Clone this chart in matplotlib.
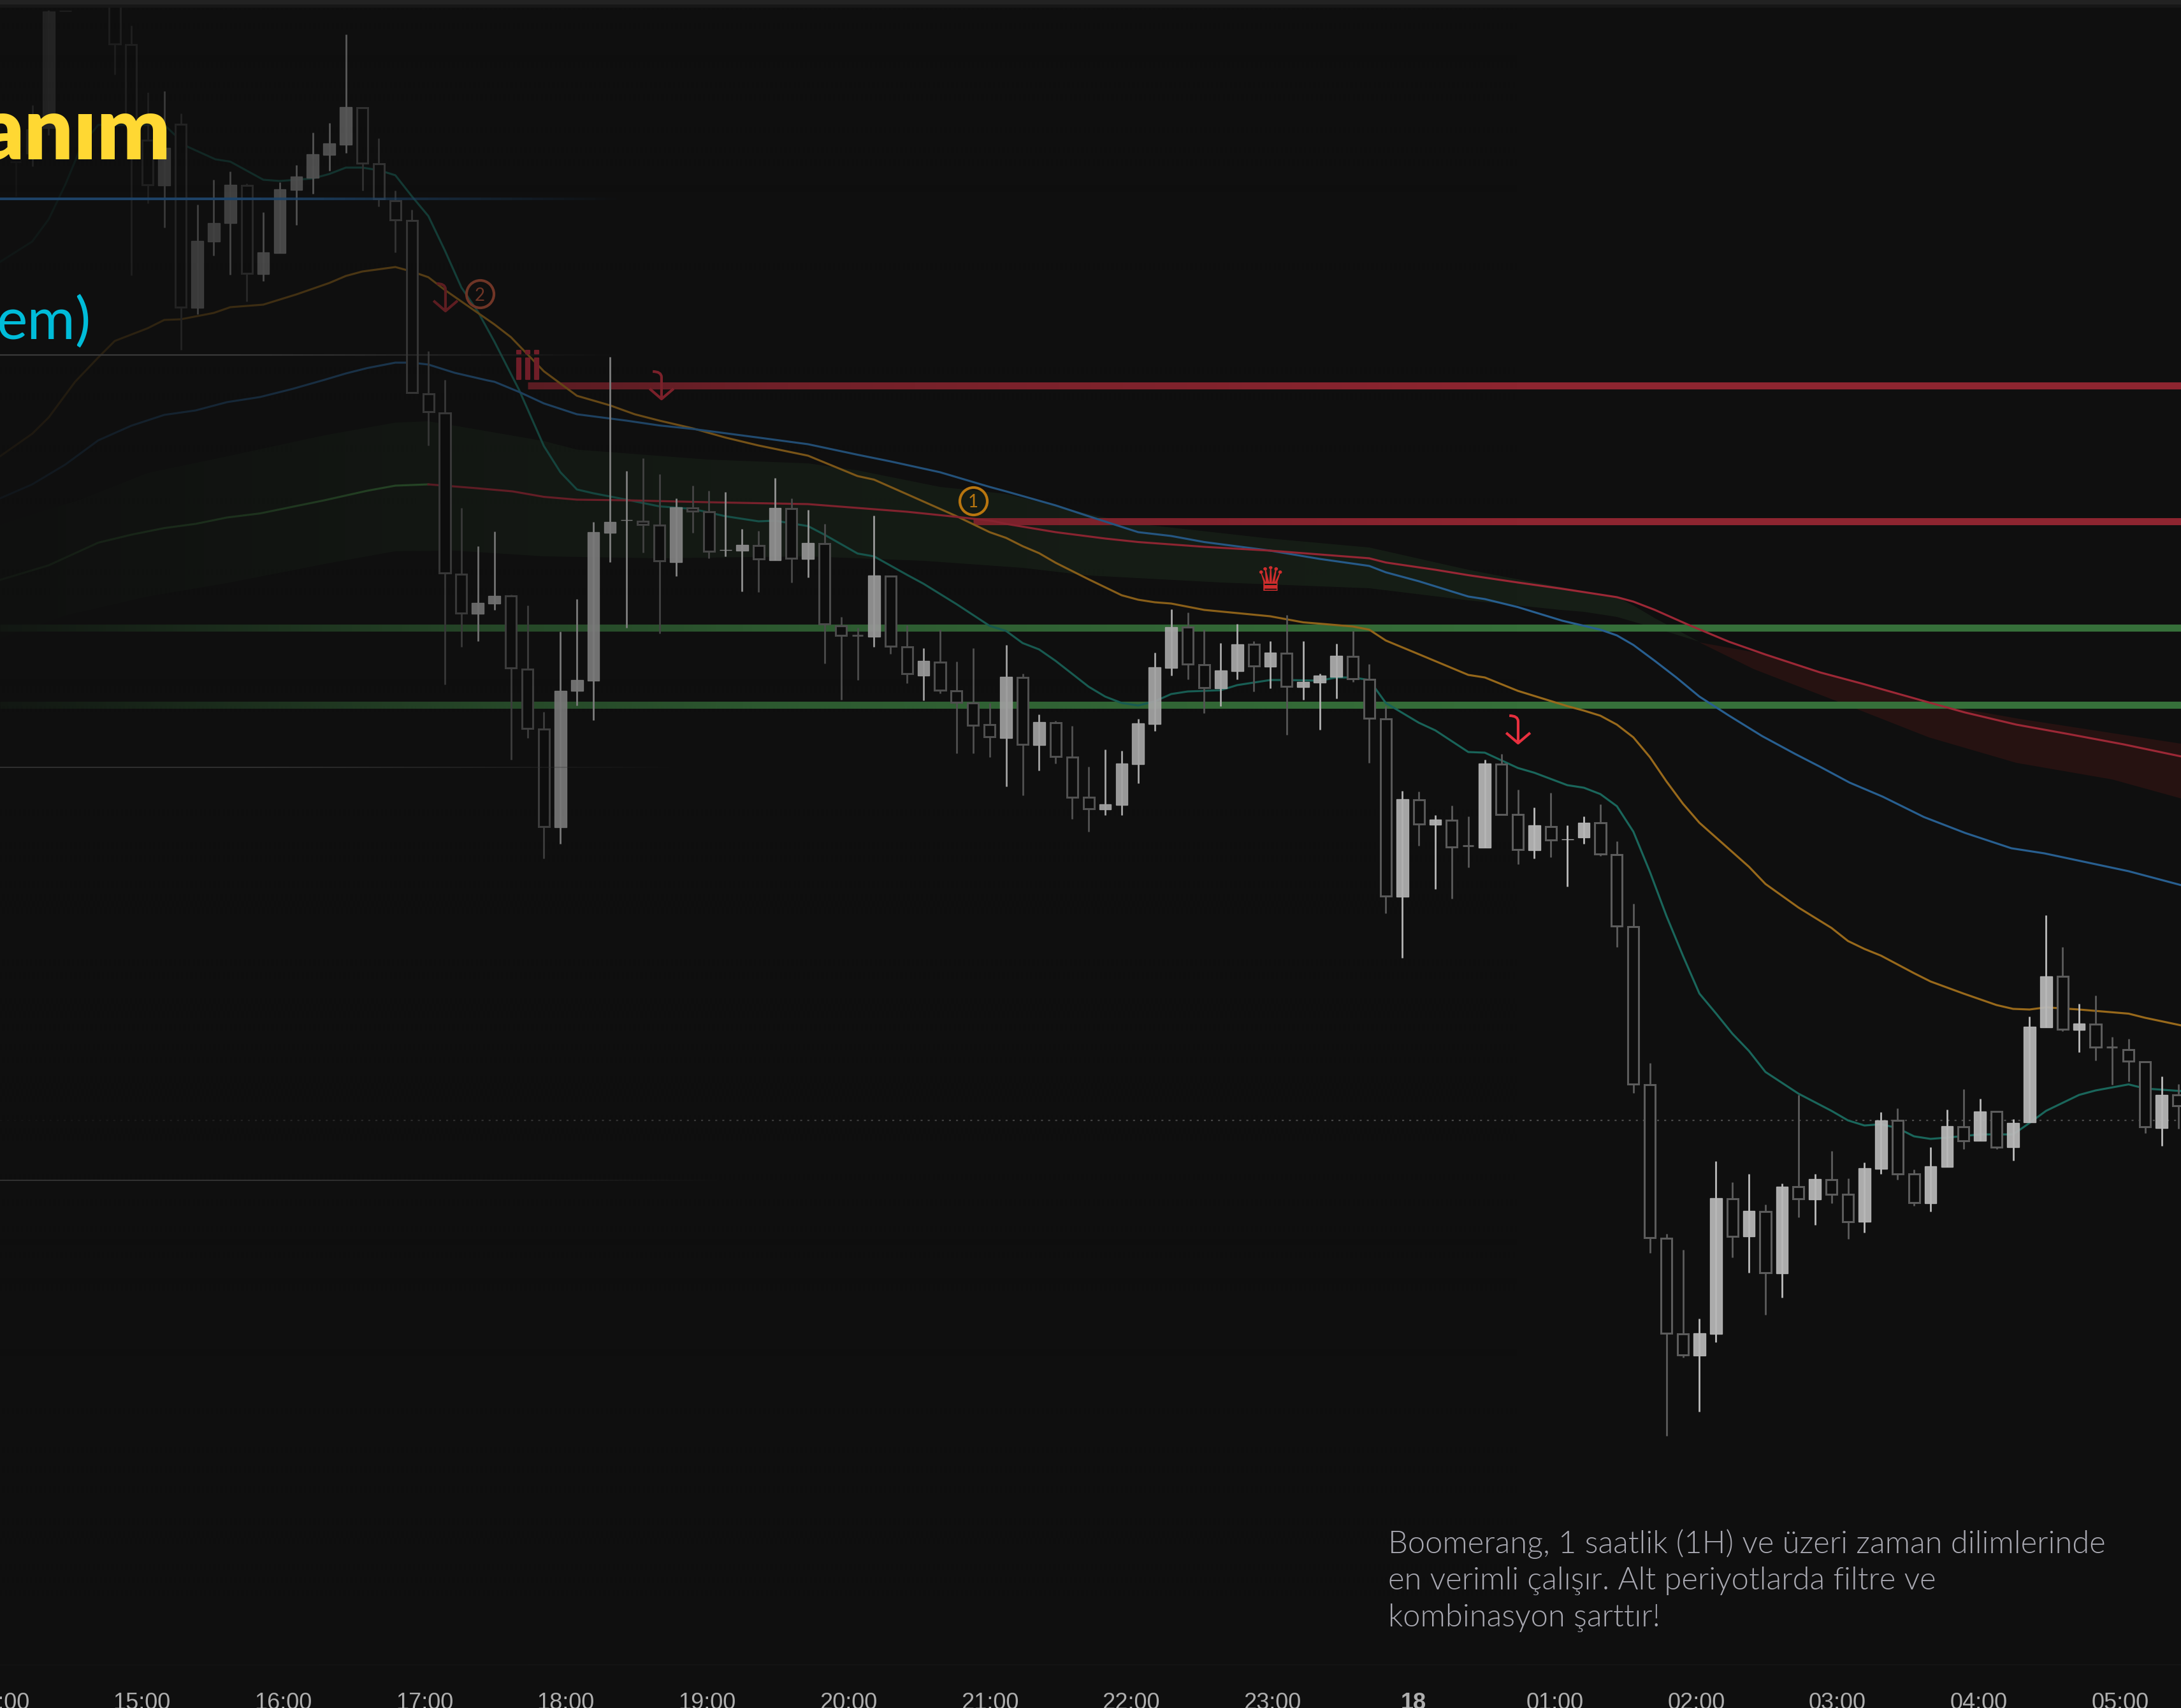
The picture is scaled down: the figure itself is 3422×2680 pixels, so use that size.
"""
Candlestick chart with EMA ribbon, levels and annotations (dark theme)
Prices are kept on the screen scale of the source picture, so the y axis runs downward
"""

import numpy as np
import matplotlib
matplotlib.use('Agg')
import matplotlib.pyplot as plt
from matplotlib.collections import LineCollection
from matplotlib.path import Path
import matplotlib.patheffects as pe

W, H = 3422, 2680
BG = '#0f0f0f'

# candles, ten bars per row after the first four
bar_index = [-6, -5, -4, -3] + list(range(0, 126))
solid = [0, 1, 1, 1,
         0, 0, 0, 1, 0, 1, 1, 1, 0, 1,
         1, 1, 1, 1, 1, 0, 0, 0, 0, 0,
         0, 0, 1, 1, 0, 0, 0, 1, 1, 1,
         1, 1, 0, 0, 1, 0, 0, 1, 1, 0,
         1, 0, 1, 0, 0, 0, 1, 0, 0, 1,
         0, 0, 0, 0, 1, 0, 1, 0, 0, 0,
         1, 1, 1, 1, 1, 0, 0, 1, 1, 0,
         1, 0, 1, 1, 1, 0, 0, 0, 1, 0,
         1, 0, 0, 1, 0, 0, 1, 0, 1, 1,
         0, 0, 0, 0, 0, 0, 1, 1, 0, 1,
         0, 1, 0, 1, 0, 0, 1, 1, 0, 0,
         1, 1, 0, 1, 0, 1, 1, 1, 0, 1,
         0, 0, 0, 0, 1, 0]
body_top = [254, 203, 18, 17,
            -5, 70, 220, 232, 195, 378, 350, 290, 291, 396,
            297, 277, 242, 225, 168, 169, 257, 315, 346, 618,
            647.5, 901, 946, 934.5, 935, 1050, 1144, 1084, 1067, 835,
            818.6, 816, 817.5, 824, 795.6, 797, 802.5, 863, 855, 856,
            797, 798, 852, 852.5, 982, 996.5, 903, 903.6, 1015, 1037,
            1038.5, 1084, 1103, 1137, 1062, 1063, 1133, 1134, 1188, 1251,
            1262, 1197.5, 1135, 1047, 984, 984, 1043, 1052, 1011, 1011,
            1024, 1024.5, 1070, 1060, 1028.6, 1030, 1066, 1127.5, 1254, 1254.6,
            1286, 1287, 1326.5, 1197.5, 1199, 1277.5, 1295, 1297, 1316.6, 1290.6,
            1291, 1341, 1453.6, 1701.5, 1943, 2092.6, 2092, 1880, 1880.6, 1900,
            1900.5, 1861.5, 1862, 1850, 1851, 1874, 1833, 1758, 1758, 1842,
            1830, 1767, 1768, 1743.6, 1744, 1762, 1611, 1531.6, 1532, 1606,
            1606.6, 1642.6, 1647, 1665.6, 1717.6, 1718]
body_bot = [254, 241, 201, 17,
            69, 192, 290, 291, 482, 483, 379, 350, 429, 430,
            397, 298, 279, 243, 227, 256, 312, 345, 616, 646,
            899, 962, 963, 947, 1048, 1143, 1297, 1298, 1084, 1068,
            836, 816, 823, 879.5, 882, 802, 864.5, 863, 864, 876.6,
            879, 876, 877, 979, 997, 996.5, 999, 1014, 1057, 1060,
            1083, 1101.6, 1138, 1155.6, 1158, 1168, 1169, 1187, 1250.5, 1269,
            1270, 1263, 1199, 1136, 1048, 1042, 1079, 1080, 1053, 1045,
            1046, 1077, 1078, 1071, 1062, 1065, 1126.5, 1406, 1407, 1293,
            1294, 1328.6, 1326.5, 1329.6, 1277.6, 1332.6, 1334, 1318, 1316.6, 1314,
            1340, 1453, 1701, 1942, 2092, 2125.5, 2127, 2092.6, 1939.5, 1940,
            1997, 1997.7, 1881, 1882, 1874, 1916.6, 1917, 1834, 1841.6, 1886.7,
            1887.5, 1831, 1789.5, 1789.5, 1799.5, 1799.5, 1760.5, 1612, 1615, 1616,
            1642.6, 1642.6, 1665, 1768, 1769.6, 1735]
wick_top = [254, 165, 16, 17,
            -10, 40, 145, 143, 178, 321, 282, 269, 288, 333,
            286, 259, 208, 193, 54, 169, 217, 299, 329, 550.5,
            596, 797, 856.5, 833.5, 933, 949.5, 1117, 991, 940, 819,
            560, 739, 719, 744, 782, 762, 770, 772, 830, 833,
            750, 782, 800, 821.5, 968, 985, 809, 903, 981, 1017,
            988, 1038, 1017, 1103, 1012, 1057, 1121, 1131, 1139, 1202.5,
            1176, 1178, 1127.5, 1023.5, 956, 961, 988, 1009, 979, 1006,
            1006, 965, 1006, 1057, 1010, 990, 1042, 1108, 1241, 1242,
            1279, 1264, 1280.6, 1192, 1183, 1239, 1267, 1244, 1295, 1280.6,
            1262, 1320, 1418, 1668, 1936, 1961, 2069, 1821.7, 1855, 1841.6,
            1890, 1857, 1718, 1841.6, 1805.6, 1848.5, 1824, 1745, 1739, 1834.7,
            1800, 1740.5, 1709, 1723.7, 1744, 1756, 1595, 1436, 1486, 1574.5,
            1561.5, 1626.5, 1629.6, 1665.6, 1689, 1700.7]
wick_bot = [308, 261, 212, 17,
            117, 432, 319, 357, 549, 493, 401, 431, 473, 441,
            397, 353, 304, 268, 240, 299, 324, 396, 616, 699,
            1074, 1015, 1006, 957, 1192, 1158, 1347, 1324, 1107, 1130,
            882, 985, 867, 994, 904, 836, 876, 873, 928, 929,
            879, 914, 906, 1041, 1097.6, 1066.6, 1015, 1026, 1072, 1099,
            1088, 1182, 1182, 1188, 1234, 1248, 1209, 1198, 1285, 1304.6,
            1278.6, 1278.6, 1228.6, 1147, 1060, 1066, 1119, 1108, 1066, 1085,
            1080, 1152.5, 1098, 1145, 1096, 1070, 1197, 1433, 1503, 1326.5,
            1395, 1410, 1361, 1330, 1278, 1355.6, 1347, 1345, 1391, 1324,
            1343, 1486, 1714.5, 1966, 2253, 2130, 2215, 2106, 1973, 1997,
            2063, 2036, 1910, 1922, 1887.5, 1944, 1934, 1842, 1851, 1892,
            1901, 1831, 1803, 1789.5, 1802.5, 1821, 1760.5, 1612, 1618, 1651,
            1664, 1702, 1697, 1778, 1798, 1771]

# moving averages
teal_bars = [-6.95, -5, -4, -3, -2, -1, 3, 4.4, 6.1, 7, 9, 10, 12, 13, 14, 15, 16, 17, 18, 19, 20, 21, 22, 23, 24.5, 26, 27, 28, 29, 31, 33, 35, 37, 39, 40, 42, 43, 45, 46, 48, 49, 51, 53, 54, 55, 56, 57, 59, 60, 61, 62, 63, 64, 65, 67, 68, 70, 71, 73, 74, 75, 76, 77, 79, 80, 82, 83, 85, 86, 88, 89, 90, 91, 92, 93, 94, 95, 96, 97, 98, 99, 100, 102, 104, 105, 106, 107, 108, 109, 110, 111, 113, 115, 116, 117, 119, 120, 122, 123, 125.2]
teal_vals = [411, 379, 344, 290, 228, 196, 196, 230, 250, 253.6, 282, 284, 280, 273, 263, 263, 267, 275, 308, 339, 393, 451, 489, 536, 612, 700, 741, 768, 774, 784, 794.5, 798.5, 810, 818, 817, 825.5, 839, 868.5, 873, 902, 916, 948, 982, 990, 1009, 1019, 1037, 1077.5, 1093, 1103, 1107, 1100.5, 1089, 1085, 1083, 1075, 1067, 1067, 1068, 1063, 1063, 1067, 1103, 1134, 1146, 1180, 1181, 1205, 1212.5, 1232, 1236, 1246, 1265, 1305, 1368, 1437, 1499.5, 1559, 1590, 1622, 1649, 1682, 1716, 1743, 1758, 1766, 1764, 1770, 1783, 1787, 1785, 1780, 1780, 1762, 1743, 1718, 1711, 1701.5, 1708, 1712]
orange_bars = [-6.95, -5, -4, -2.4, -1, 0, 2, 3, 4, 6, 7, 9, 11, 13, 14, 15, 17, 18, 19, 20, 22, 23, 24, 26, 28, 30, 31.5, 33, 35, 37, 39, 42, 45, 46, 48, 51, 53, 54, 55, 56, 57, 59, 61, 62, 63, 64, 66, 68, 70, 72, 73, 75, 76, 77, 79, 82, 83, 85, 86, 88, 89, 90, 91, 92, 93, 94, 95, 96, 97, 99, 100, 102, 104, 105, 106, 107, 109, 110, 112, 114, 115, 116, 117, 119, 122, 123, 125.2]
orange_vals = [716, 680.6, 655, 599, 561, 535, 515, 502, 501, 491, 482, 478, 462, 444, 433, 426, 419, 426, 435, 455, 491, 509, 529, 582.6, 621, 636, 650, 660, 672, 686.6, 699, 715, 747, 752.6, 775.5, 810, 835, 844, 857, 868, 883, 909, 934, 941, 945, 947, 957, 962, 967, 976.5, 978.6, 983, 988, 1005, 1026.5, 1059, 1063, 1084, 1092, 1108, 1115, 1123, 1137, 1157, 1188, 1226, 1261, 1291, 1314, 1360, 1387, 1424, 1456, 1476.5, 1489, 1499.5, 1527, 1540, 1559, 1577, 1583, 1584, 1580.6, 1584, 1590.5, 1597, 1609]
blue_bars = [-6.95, -5, -3, -1, 1, 3, 4.9, 6.8, 8.8, 10.8, 12.7, 14, 15.3, 17, 18, 19, 20.6, 22.6, 23, 24.5, 26, 28, 31, 33, 35, 39, 42, 45, 47, 50, 53, 54, 57, 59, 62, 64, 66, 70, 73, 76, 77, 79, 82, 83, 85, 87.7, 90, 91, 92, 93.3, 94.6, 96, 97.8, 99.8, 101.8, 103.3, 105.1, 107.1, 109.6, 112.1, 114.9, 116.9, 122, 125.2]
blue_vals = [782, 760, 729, 691, 668, 651, 644, 631, 623, 610, 596, 586, 577.5, 569, 569, 572, 585, 597, 599, 615, 633, 650, 660, 667.6, 673, 686.6, 697, 713.5, 724, 741, 764, 771, 793, 810, 835, 841, 850.5, 864, 877, 888, 898, 912, 936, 940, 952.6, 974, 988, 997, 1012, 1037, 1063, 1093, 1123, 1155, 1183, 1203, 1228, 1250, 1282, 1307, 1331, 1339, 1367, 1389]
slow_up_bars = [-6.95, -4, -1, 1, 3, 4.9, 6.8, 8.8, 10.8, 12.7, 14, 15.3, 17, 19]
slow_up_vals = [910, 887, 851.5, 839, 828.6, 822, 812, 805.6, 795, 785, 777.5, 770, 762, 760]
slow_down_bars = [19, 21.9, 24.1, 26, 28, 31, 35.9, 42, 45, 48, 51, 53.2, 54, 57, 60, 62, 66, 70, 74, 76, 77, 80, 82, 85, 87.6, 89.5, 91, 92, 93.3, 95.3, 97.8, 100, 103.3, 105.9, 109.6, 112.1, 115.2, 118.4, 121.7, 125.2]
slow_down_vals = [760, 766, 771, 779.6, 784, 785, 788, 791, 797, 803, 811, 817.5, 822, 835, 845, 850.5, 858, 864, 872, 876, 882.6, 894, 902.5, 914, 923.5, 931, 937, 944, 957, 980, 1007, 1027, 1055, 1073, 1100, 1118, 1137, 1152, 1168, 1187]

# ribbon outlines
green_top_bars = [-6.95, -2, 2, 6.8, 12.7, 17, 19, 20.4, 26, 28, 35.9, 42, 45, 50, 54, 59.6, 62, 70, 76, 82, 85, 87.6, 91, 92, 93.3, 96]
green_top_vals = [823, 783, 742, 716, 683, 663, 661, 667, 692, 705.5, 721, 727, 738, 764, 775, 810, 822, 845, 859, 894, 909, 921, 937, 950, 970, 1007]
green_bot_bars = [-6.95, -3, 2, 6.8, 12.7, 17, 20.6, 26, 33, 42, 48, 49, 55, 59, 67, 76, 82, 87.6, 89, 91, 93, 96]
green_bot_vals = [1002, 966, 936, 915, 885, 865, 864, 873, 876, 873, 879, 880, 891, 903, 914, 923, 942, 957, 960, 968, 983, 1007]
red_top_bars = [96, 100.3, 104.1, 109.6, 112.1, 115.4, 125.2]
red_top_vals = [1008, 1028, 1060, 1102, 1113, 1128, 1167]
red_bot_bars = [96, 99.3, 104.6, 109.9, 115.2, 121, 125.2]
red_bot_vals = [1008, 1050, 1103, 1157, 1197, 1223, 1253]

# horizontal levels
resistance_levels = [604.5, 818]
resistance_starts = [25, 52]
support_levels = [985, 1106]
faded_levels = [312, 557, 1204, 1852]
faded_ends = [31, 31, 35, 38]
faded_colors = ['#1d4266', '#3a3a3a', '#303030', '#333333']
faded_widths = [3.0, 1.6, 1.4, 1.4]
dotted_level = 1758

hour_labels = ['14:00', '15:00', '16:00', '17:00', '18:00', '19:00', '20:00', '21:00', '22:00',
               '23:00', '18', '01:00', '02:00', '03:00', '04:00', '05:00']

note_lines = ['Boomerang, 1 saatlik (1H) ve üzeri zaman dilimlerinde',
              'en verimli çalışır. Alt periyotlarda filtre ve',
              'kombinasyon şarttır!']

# layout of the x axis: pixels of first bar, bar pitch and hour pitch
X0, BAR_W, HOUR_W = 180.0, 25.9, 221.7
AX_BOTTOM = 2612


def fx(px):
    return px / W


def fy(py):
    return 1 - py / H


def bar_pos(px):
    return (px - X0) / BAR_W


def fading_hline(ax, y, x_start, x_end, color, width, z):
    # level that dies away to the right
    xs = np.linspace(x_start, x_end, 61)
    segs = [[(xs[i], y), (xs[i + 1], y)] for i in range(60)]
    rgba = np.tile(matplotlib.colors.to_rgba(color), (60, 1))
    rgba[:, 3] = np.clip(np.linspace(1.6, 0, 60), 0, 1)
    ax.add_collection(LineCollection(segs, colors=rgba, linewidths=width, zorder=z))


plt.rcParams['font.family'] = ['Liberation Sans', 'DejaVu Sans']

fig = plt.figure(figsize=(W / 100, H / 100), dpi=100, facecolor=BG)
ax = fig.add_axes([0, (H - AX_BOTTOM) / H, 1, AX_BOTTOM / H], facecolor=BG)
ax.set_xlim(bar_pos(0), bar_pos(W))
ax.set_ylim(AX_BOTTOM, 0)

# ribbon
ax.fill(green_top_bars + green_bot_bars[::-1], green_top_vals + green_bot_vals[::-1],
        color='#161e16', lw=0, zorder=1)
ax.fill(red_top_bars + red_bot_bars[::-1], red_top_vals + red_bot_vals[::-1],
        color='#261211', lw=0, zorder=1)

# levels
for level, start in zip(resistance_levels, resistance_starts):
    ax.hlines(level, start, bar_pos(W), color='#8e2530', lw=8.0, zorder=2)
for level in support_levels:
    ax.hlines(level, bar_pos(0), bar_pos(W), color='#36703a', lw=8.0, zorder=2)
ax.hlines(dotted_level, bar_pos(0), bar_pos(W), color='#4a4a4a', lw=1.6,
          linestyles=(0, (1.4, 3.6)), zorder=2)

# moving averages
ax.plot(teal_bars, teal_vals, color='#1a665b', lw=2.3, zorder=3)
ax.plot(orange_bars, orange_vals, color='#98691b', lw=2.3, zorder=3)
ax.plot(blue_bars, blue_vals, color='#285f90', lw=2.3, zorder=3)
ax.plot(slow_up_bars, slow_up_vals, color='#3c7a3c', lw=2.3, zorder=3)
ax.plot(slow_down_bars, slow_down_vals, color='#9c2836', lw=2.3, zorder=3)

# candles
bars = np.array(bar_index)
is_solid = np.array(solid, dtype=bool)
tops, bots = np.array(body_top, dtype=float), np.array(body_bot, dtype=float)
highs, lows = np.array(wick_top, dtype=float), np.array(wick_bot, dtype=float)
ax.vlines(bars[~is_solid], highs[~is_solid], lows[~is_solid], color='#5c5c5c', lw=2.0, zorder=4)
ax.vlines(bars[is_solid], highs[is_solid], lows[is_solid], color='#bcbcbc', lw=2.0, zorder=4)
ax.bar(bars[~is_solid], bots[~is_solid] - tops[~is_solid], bottom=tops[~is_solid], width=0.66,
       facecolor='#0d0d0d', edgecolor='#5c5c5c', lw=2.2, zorder=5)
ax.bar(bars[is_solid], bots[is_solid] - tops[is_solid], bottom=tops[is_solid], width=0.72,
       facecolor='#b8b8b8', edgecolor='#b8b8b8', lw=1.0, alpha=0.93, zorder=5)

# signals
arrow = Path([(-0.62, 1), (0.0, 1), (0.02, 0.6), (0.02, -1), (-0.85, -0.25), (0.02, -1), (0.9, -0.25)],
             [Path.MOVETO, Path.CURVE3, Path.CURVE3, Path.LINETO, Path.MOVETO, Path.LINETO, Path.LINETO])
for px, py, color in [(698, 466, '#a32a32'), (1037, 604, '#b02a38'), (2381, 1144, '#e8303f')]:
    ax.plot([bar_pos(px)], [py], marker=arrow, ms=31, mfc='none', mec=color, mew=3.0, ls='none', zorder=6)

for px, py, color, digit in [(752.5, 461, '#b85238', '2'), (1526.5, 786, '#d98a10', '1')]:
    ax.plot([bar_pos(px)], [py], marker='o', ms=31, mfc='none', mec=color, mew=3.0, ls='none', zorder=6)
    ax.text(bar_pos(px), py, digit, color=color, fontsize=20, ha='center', va='center_baseline',
            family='Lato', zorder=6)

ax.text(bar_pos(828), 595, 'iii', color='#b0283a', fontsize=45, ha='center', va='baseline', zorder=6,
        path_effects=[pe.withStroke(linewidth=1.6, foreground='#b0283a')])
ax.text(bar_pos(1993), 912, '\u265b', color='#e03030', fontsize=38, ha='center', va='center',
        family='DejaVu Sans', zorder=6)

# the left side of the chart is dimmed
stops_px = [0, 76, 300, 490, 776, 1000, 1200, 1580, 1900, 2400, W]
stops_vis = [0.08, 0.12, 0.27, 0.39, 0.58, 0.65, 0.76, 0.85, 0.90, 1.0, 1.0]
shade = np.zeros((1, W // 2, 4))
shade[0, :, :3] = matplotlib.colors.to_rgb(BG)
shade[0, :, 3] = 1 - np.interp(np.linspace(0, W, W // 2), stops_px, stops_vis)
ax.imshow(shade, extent=(bar_pos(0), bar_pos(W), AX_BOTTOM, 0), aspect='auto', zorder=7, interpolation='bilinear')
ax.set_xlim(bar_pos(0), bar_pos(W))
ax.set_ylim(AX_BOTTOM, 0)

# levels left above the dimming
for level, end, color, width in zip(faded_levels, faded_ends, faded_colors, faded_widths):
    fading_hline(ax, level, bar_pos(0), end, color, width, 8)
ax.axhspan(0, 7, color='#222222', lw=0, zorder=8)
ax.axhspan(7, 12, color='#171717', lw=0, zorder=8)

# x axis
tick_px = [1 + HOUR_W * k for k in range(len(hour_labels))]
ax.set_xticks([bar_pos(p) for p in tick_px])
ax.set_xticklabels(hour_labels)
ax.set_yticks([])
ax.tick_params(axis='x', length=0, pad=31, labelsize=26, labelcolor='#aeaeae')
ax.get_xticklabels()[10].set_fontweight('bold')
for side in ['top', 'left', 'right']:
    ax.spines[side].set_visible(False)
ax.spines['bottom'].set_color('#161616')
ax.spines['bottom'].set_linewidth(1.2)

# overlay captions
fig.text(fx(268), fy(250), 'anım', color='#ffd833', fontsize=98, fontweight=800,
         family='Lato', ha='right', va='baseline', zorder=10)
fig.text(fx(143), fy(533), 'em)', color='#00bcd9', fontsize=66, family='Lato',
         ha='right', va='baseline', zorder=10)
for text, base in zip(note_lines, [2437, 2494, 2552]):
    fig.text(fx(2178), fy(base), text, color='#a9a9b2', fontsize=35.2, fontweight=300,
             family='Lato', ha='left', va='baseline', zorder=10)

fig.savefig('out.png', dpi=100, facecolor=BG)
